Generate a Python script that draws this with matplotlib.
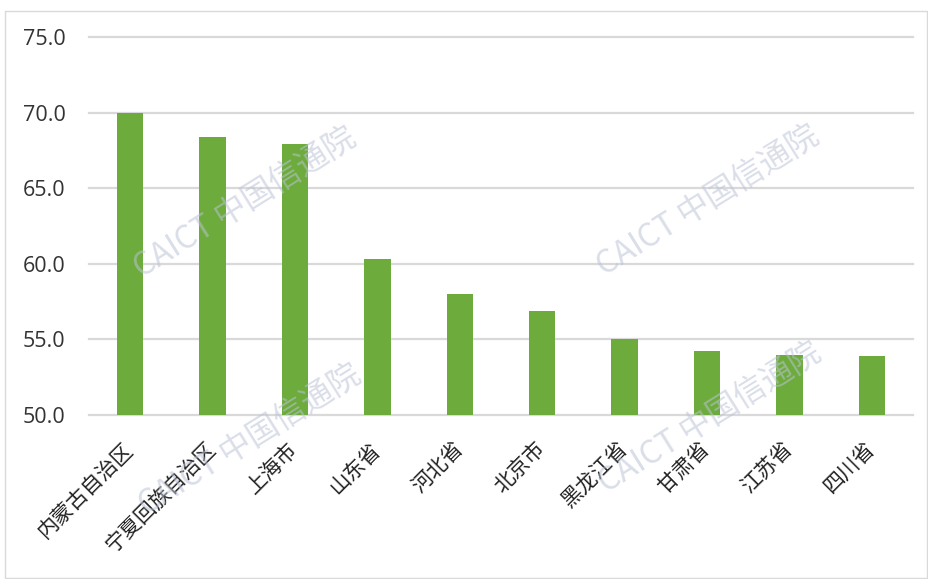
import matplotlib
matplotlib.use("Agg")
import matplotlib.pyplot as plt
from matplotlib.patches import Rectangle

plt.rcParams['font.family'] = ['Noto Sans CJK SC', 'DejaVu Sans']

regions = ["内蒙古自治区", "宁夏回族自治区", "上海市", "山东省", "河北省",
           "北京市", "黑龙江省", "甘肃省", "江苏省", "四川省"]
values = [70.0, 68.4, 67.9, 60.3, 58.0, 56.9, 55.0, 54.2, 54.0, 53.9]
y_ticks = [50.0, 55.0, 60.0, 65.0, 70.0, 75.0]

W, H = 929, 579
fig = plt.figure(figsize=(W / 100, H / 100), dpi=100)
fig.patch.set_facecolor("white")

# light frame around the chart area
fig.patches.append(Rectangle((5 / W, 1 - 578 / H), 922 / W, 567 / H,
                             transform=fig.transFigure, fill=False,
                             edgecolor="#d9d9d9", linewidth=1.0))

ax = fig.add_axes([89 / W, 1 - 415 / H, (913 - 89) / W, (415 - 37) / H])
x = range(len(regions))
ax.bar(x, values, width=0.32, color="#6CAB3C", zorder=3)

ax.set_ylim(50, 75)
ax.set_xlim(-0.5, len(regions) - 0.5)
ax.set_yticks(y_ticks)
ax.set_yticklabels([f"{v:.1f}" for v in y_ticks], fontsize=15.5,
                   color="#333333", family=['Open Sans', 'DejaVu Sans'])
ax.set_xticks(list(x))
ax.set_xticklabels(regions, rotation=45, ha="right", va="center",
                   rotation_mode="anchor", fontsize=15, color="#222222",
                   fontweight="medium")
ax.tick_params(axis="both", length=0)
ax.tick_params(axis="y", pad=17)
ax.tick_params(axis="x", pad=22)
for s in ax.spines.values():
    s.set_visible(False)
ax.grid(axis="y", color="#d9d9d9", linewidth=1.6, zorder=0)
for gl in ax.get_ygridlines():
    gl.set_clip_on(False)
ax.set_axisbelow(True)

# watermark stamps
for cx, cy in [(245, 203), (708, 201), (250, 440), (710, 418)]:
    fig.text(cx / W, 1 - cy / H, "CAICT 中国信通院", rotation=32,
             ha="center", va="center", fontsize=23, color="#bcc3d6",
             alpha=0.55, zorder=10,
             family=['Noto Sans CJK SC', 'DejaVu Sans'])

fig.savefig("out.png", dpi=100, facecolor="white")
